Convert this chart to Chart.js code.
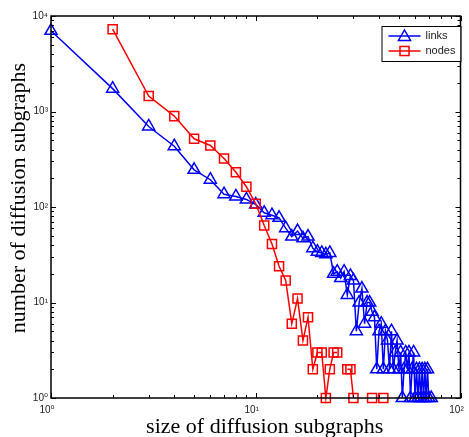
<!DOCTYPE html>
<html>
<head>
<meta charset="utf-8">
<script src="https://cdn.jsdelivr.net/npm/chart.js@4.4.1/dist/chart.umd.min.js"></script>
<style>
  html, body { margin: 0; padding: 0; background: #fff; }
  #wrap { width: 469px; height: 437px; position: relative; }
</style>
</head>
<body>
<div id="wrap"><canvas id="result-chart"></canvas></div>
<script>
// values (zero counts left as null, they are gaps on a log axis)
const links_size = [
  1, 2, 3, 4, 5, 6, 7, 8, 9, 10, 11, 12, 13, 14, 15, 16, 17, 18, 19, 20,
  21, 22, 23, 24, 25, 26, 27, 28, 29, 30, 31, 32, 33, 34, 35, 36, 37, 38, 39, 40,
  41, 42, 43, 44, 45, 46, 47, 48, 49, 50, 51, 52, 53, 54, 55, 56, 57, 58, 59, 60,
  61, 62, 63, 64, 65, 66, 67, 68, 69, 70, 71, 72,
];
const links_count = [
  7000, 1735, 697, 433, 245, 193, 136, 129, 120, 106, 87, 82, 77, 60, 49, 56, 47, 49, 37, 34,
  33, 32, 33, 20, 21, 18, 21, 12, 19, 17, 5, 10, 14, 6, 10, 10, 8, 7, 2, 5,
  6, 2, 5, 4, 2, 5, 2, 3, 4, 2, 3, 1, 2, 3, 2, 3, 1, 2, 3, 1,
  2, 1, 2, 1, 2, 1, 2, 1, 2, 1, null, 1,
];
const nodes_size = [
  2, 3, 4, 5, 6, 7, 8, 9, 10, 11, 12, 13, 14, 15, 16, 17, 18, 19, 20, 21,
  22, 23, 24, 25, 26, 27, 28, 29, 30, 31, 32, 33, 34, 35, 36, 37, 38, 39, 40, 41, 42,
];
const nodes_count = [
  7270, 1451, 895, 518, 441, 322, 231, 163, 108, 64, 41, 24, 17, 6, 11, 4, 7, 2, 3, 3,
  1, 2, 3, 3, null, null, 2, 2, 1, null, null, null, null, null, null, 1, null, null, null, null, 1,
];
const x_ticks = [1, 10, 100];
const y_ticks = [1, 10, 100, 1000, 10000];
const superscripts = ["⁰", "¹", "²", "³", "⁴"];
const x_title = "size of diffusion subgraphs";
const y_title = "number of diffusion subgraphs";

const tick_font = { family: "'Liberation Sans', 'DejaVu Sans', sans-serif", size: 10 };
const title_font = "22px 'Liberation Serif', serif";

const to_points = (sizes, counts) => sizes.map((s, i) => ({ x: s, y: counts[i] }));

const tick_label = (value) => "10" + superscripts[Math.round(Math.log10(value))];

const draw_triangle = (ctx, x, y, r) => {
  ctx.beginPath();
  ctx.moveTo(x, y - r);
  ctx.lineTo(x + r * 0.866, y + r / 2);
  ctx.lineTo(x - r * 0.866, y + r / 2);
  ctx.closePath();
  ctx.stroke();
};

const draw_square = (ctx, x, y, r) => {
  const h = r * Math.SQRT1_2;
  ctx.strokeRect(x - h, y - h, 2 * h, 2 * h);
};

// box around the axes, with inward major and minor ticks on all four sides
const box_plugin = {
  id: "box",
  afterDraw: (chart) => {
    const ctx = chart.ctx;
    const { left, right, top, bottom } = chart.chartArea;
    const xs = chart.scales.x;
    const ys = chart.scales.y;
    ctx.save();
    ctx.strokeStyle = "#000";
    ctx.lineWidth = 1;
    ctx.beginPath();
    for (let d = 1; d <= 100; d *= 10) {
      for (let k = 1; k <= 9; k++) {
        const v = k * d;
        if (v > 100) break;
        const len = k === 1 ? 5 : 3;
        const px = Math.round(xs.getPixelForValue(v)) + 0.5;
        ctx.moveTo(px, bottom);
        ctx.lineTo(px, bottom - len);
        ctx.moveTo(px, top);
        ctx.lineTo(px, top + len);
      }
    }
    for (let d = 1; d <= 10000; d *= 10) {
      for (let k = 1; k <= 9; k++) {
        const v = k * d;
        if (v > 10000) break;
        const len = k === 1 ? 5 : 3;
        const py = Math.round(ys.getPixelForValue(v)) + 0.5;
        ctx.moveTo(left, py);
        ctx.lineTo(left + len, py);
        ctx.moveTo(right, py);
        ctx.lineTo(right - len, py);
      }
    }
    ctx.stroke();
    ctx.lineWidth = 1.5;
    ctx.strokeRect(left, top, right - left, bottom - top);

    // axis titles, placed as in the original figure
    ctx.fillStyle = "#000";
    ctx.font = title_font;
    ctx.textAlign = "center";
    ctx.textBaseline = "alphabetic";
    ctx.fillText(x_title, (left + right) / 2 + 9, 433);
    ctx.translate(25, (top + bottom) / 2 - 9);
    ctx.rotate(-Math.PI / 2);
    ctx.fillText(y_title, 0, 0);
    ctx.restore();
  },
};

const legend_plugin = {
  id: "inset_legend",
  afterDraw: (chart) => {
    const ctx = chart.ctx;
    const x0 = chart.chartArea.right - 79;
    const y0 = chart.chartArea.top + 10;
    ctx.save();
    ctx.fillStyle = "#fff";
    ctx.fillRect(x0, y0, 79, 35);
    ctx.strokeStyle = "#000";
    ctx.lineWidth = 1;
    ctx.strokeRect(x0 + 0.5, y0 + 0.5, 79, 35);
    chart.data.datasets.forEach((ds, i) => {
      const y = y0 + 10 + i * 15;
      ctx.strokeStyle = ds.borderColor;
      ctx.lineWidth = 1.5;
      ctx.beginPath();
      ctx.moveTo(x0 + 7, y);
      ctx.lineTo(x0 + 39, y);
      ctx.stroke();
      if (ds.pointStyle === "triangle") draw_triangle(ctx, x0 + 23, y + 1, 7);
      else draw_square(ctx, x0 + 23, y, 6.4);
      ctx.fillStyle = "#222";
      ctx.font = "11px 'Liberation Sans', 'DejaVu Sans', sans-serif";
      ctx.textBaseline = "middle";
      ctx.fillText(ds.label, x0 + 44, y);
    });
    ctx.restore();
  },
};

const get_chart_data = () => {
  return {
    datasets: [
      {
        label: "links",
        data: to_points(links_size, links_count),
        borderColor: "#0000ff",
        backgroundColor: "rgba(0,0,0,0)",
        pointBackgroundColor: "rgba(0,0,0,0)",
        pointStyle: "triangle",
        pointRadius: 7,
        pointBorderWidth: 1.5,
        borderWidth: 1.5,
        spanGaps: false,
        clip: false,
        order: 1,
      },
      {
        label: "nodes",
        data: to_points(nodes_size, nodes_count),
        borderColor: "#ff0000",
        backgroundColor: "rgba(0,0,0,0)",
        pointBackgroundColor: "rgba(0,0,0,0)",
        pointStyle: "rect",
        pointRadius: 6.4,
        pointBorderWidth: 1.5,
        borderWidth: 1.5,
        spanGaps: false,
        clip: false,
        order: 0,
      },
    ],
  };
};

const get_chart_config = (data) => {
  return {
    type: "line",
    data: data,
    plugins: [box_plugin, legend_plugin],
    options: {
      animation: false,
      responsive: true,
      maintainAspectRatio: false,
      events: [],
      layout: { padding: { top: 16, right: 7, bottom: 0, left: 0 } },
      plugins: { legend: { display: false }, tooltip: { enabled: false } },
      scales: {
        x: {
          type: "logarithmic",
          min: 1,
          max: 100,
          afterBuildTicks: (s) => { s.ticks = x_ticks.map((v) => ({ value: v })); },
          afterFit: (s) => { s.height = 39; s.paddingLeft = 0; s.paddingRight = 0; },
          grid: { display: false, drawTicks: false },
          border: { display: false },
          ticks: {
            callback: tick_label,
            font: tick_font,
            color: "#222",
            padding: 6,
            labelOffset: -4,
            maxRotation: 0,
            autoSkip: false,
          },
        },
        y: {
          type: "logarithmic",
          min: 1,
          max: 10000,
          afterBuildTicks: (s) => { s.ticks = y_ticks.map((v) => ({ value: v })); },
          afterFit: (s) => { s.width = 51; s.paddingTop = 0; s.paddingBottom = 0; },
          grid: { display: false, drawTicks: false },
          border: { display: false },
          ticks: {
            callback: tick_label,
            font: tick_font,
            color: "#222",
            padding: 3,
            autoSkip: false,
          },
        },
      },
    },
  };
};

const draw_new_chart = () => {
  const config = get_chart_config(get_chart_data());
  return new Chart(document.getElementById("result-chart"), config);
};

draw_new_chart();
</script>
</body>
</html>
